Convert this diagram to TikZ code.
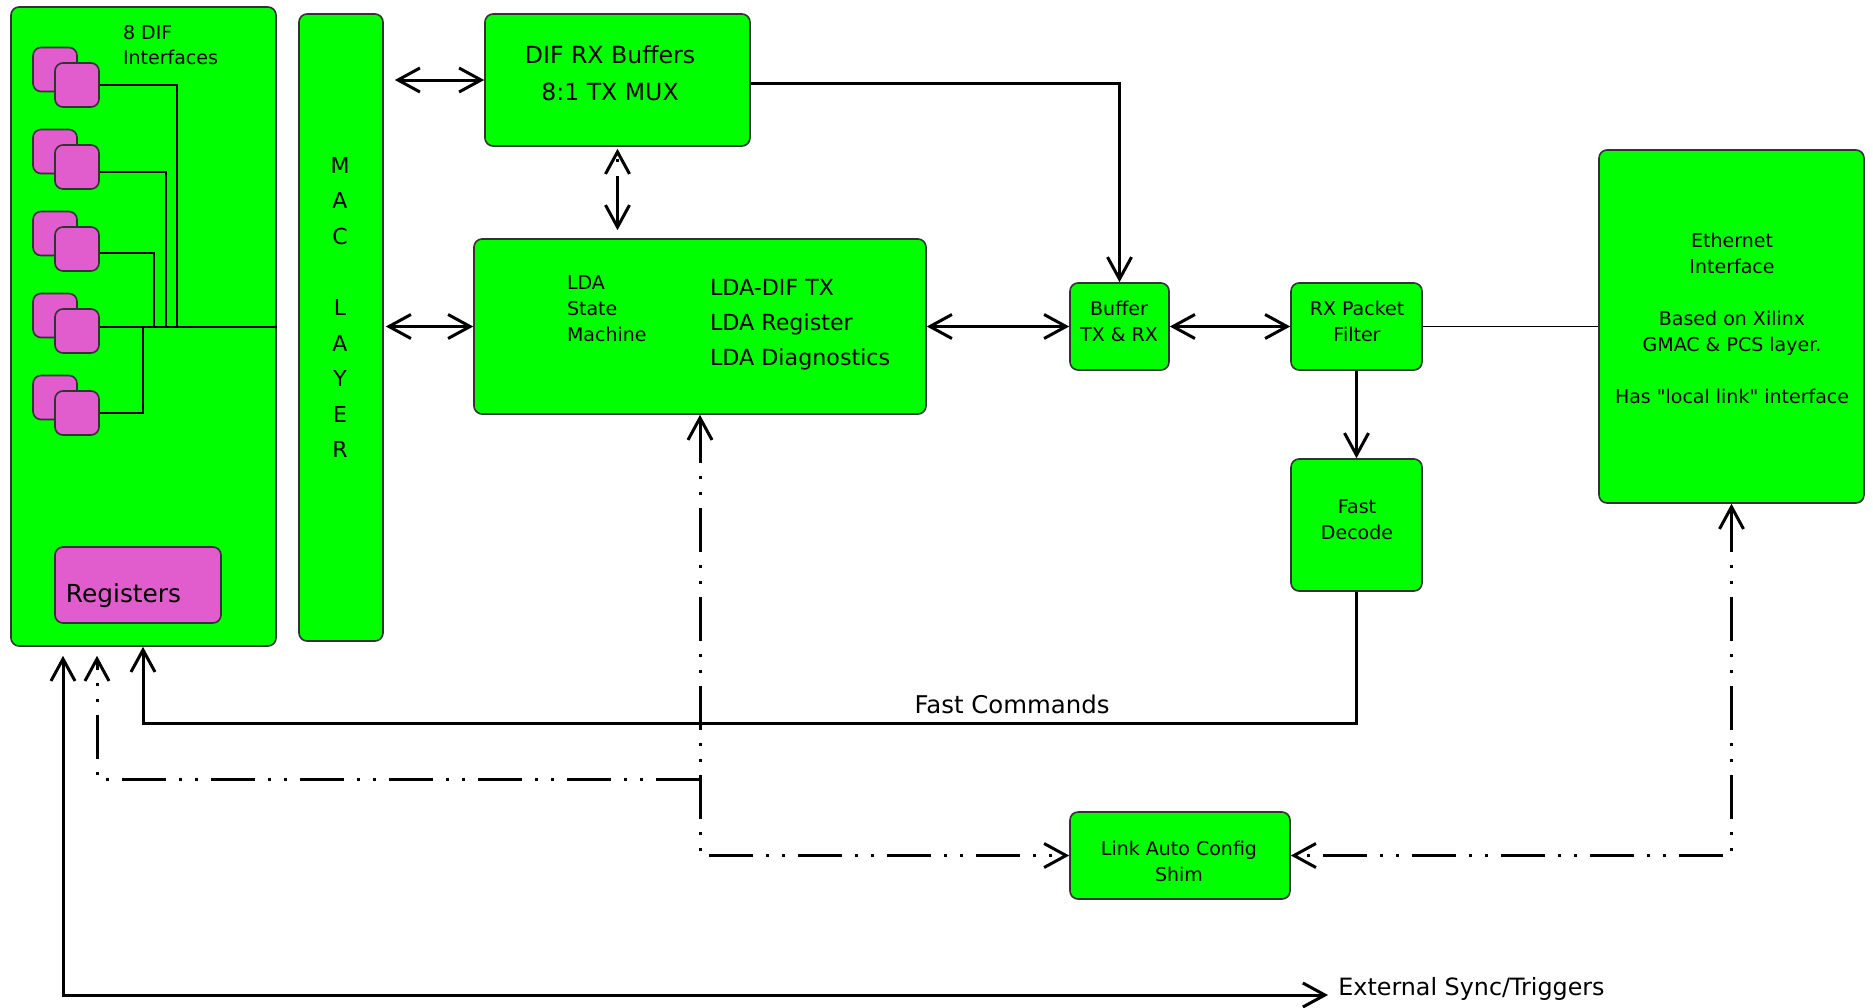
\documentclass[tikz,border=0pt]{standalone}
\usepackage{fontspec}
\setmainfont{DejaVu Sans}[Ligatures=TeXOff]
\usetikzlibrary{arrows.meta}
\definecolor{blockgreen}{RGB}{0,255,0}
\definecolor{padpink}{RGB}{225,92,205}

\begin{document}
\begin{tikzpicture}[x=0.5pt, y=-0.5pt,
    >={Straight Barb[length=11pt, width=12pt]},
    block/.style={draw=black!80, line width=0.8pt, fill=blockgreen, rounded corners=4pt, inner sep=0pt},
    padbox/.style={draw=black!80, line width=0.8pt, fill=padpink, rounded corners=4pt, minimum width=22pt, minimum height=22pt, inner sep=0pt},
    link/.style={line width=1.5pt},
    bus/.style={line width=1pt},
    dashdotdot/.style={line width=1.5pt, dash pattern=on 22pt off 6.5pt on 1.5pt off 6.5pt on 1.5pt off 6.5pt},
    smalltext/.style={font=\fontsize{9.5}{13}\selectfont, align=center},
    bigtext/.style={font=\fontsize{12}{18.5}\selectfont, align=center}]
    \useasboundingbox (0,0) rectangle (1873,1007);

    % DIF interfaces block
    \node[block, minimum width=132.5pt, minimum height=319.5pt] (iface) at (143.5,326.5) {};
    \node[smalltext, anchor=west, align=left, font=\fontsize{9.5}{12.5}\selectfont] (ifacelbl) at (116,45.5) {8 DIF\\Interfaces};

    % Interface pads
    \node[padbox] (difa1) at (55,69.5) {};
    \node[padbox] (difb1) at (77,85) {};
    \node[padbox] (difa2) at (55,151.5) {};
    \node[padbox] (difb2) at (77,167) {};
    \node[padbox] (difa3) at (55,233.5) {};
    \node[padbox] (difb3) at (77,249) {};
    \node[padbox] (difa4) at (55,315.5) {};
    \node[padbox] (difb4) at (77,331) {};
    \node[padbox] (difa5) at (55,397.5) {};
    \node[padbox] (difb5) at (77,413) {};

    % Pad wiring
    \coordinate (tap1) at (177,326.5);
    \coordinate (tap2) at (166,326.5);
    \coordinate (tap3) at (154,326.5);
    \coordinate (tap5) at (143,326.5);
    \draw[bus] (difb4.east |- iface.east) -- (iface.east);
    \draw[bus] (difb1.east) -| (tap1);
    \draw[bus] ([yshift=-2.5pt]difb2.east) -| (tap2);
    \draw[bus] ([yshift=-2pt]difb3.east) -| (tap3);
    \draw[bus] (difb5.east) -| (tap5);

    % Registers
    \node[padbox, minimum width=83pt, minimum height=38pt] (regs) at (138,585) {};
    \node[font=\fontsize{12.4}{14}\selectfont] (regslbl) at (123.5,596) {Registers};

    % MAC layer
    \node[block, minimum width=42pt, minimum height=313.5pt] (mac) at (341,327.5) {};
    \node[font=\fontsize{11}{17.8}\selectfont, align=center] (maclbl) at (340,307.5) {M\\A\\C\\[17.8pt]L\\A\\Y\\E\\R};

    % DIF RX buffers
    \node[block, minimum width=132.5pt, minimum height=66pt] (difrx) at (617.5,80) {};
    \node[bigtext, font=\fontsize{11.8}{18.5}\selectfont] (difrxlbl) at (610,73.5) {DIF RX Buffers\\8:1 TX MUX};

    % LDA block
    \node[block, minimum width=226pt, minimum height=87.5pt] (lda) at (700,326.5) {};
    \node[smalltext, anchor=west, align=left] (ldasm) at (560,309) {LDA\\State\\Machine};
    \node[anchor=west, align=left, font=\fontsize{11.1}{17.5}\selectfont] (ldafunc) at (703,325) {LDA-DIF TX\\LDA Register\\LDA Diagnostics};

    % Packet path
    \node[block, minimum width=49.5pt, minimum height=43.5pt] (bufrx) at (1119.5,326.5) {};
    \node[smalltext] (bufrxlbl) at (1119,321.5) {Buffer\\TX \& RX};
    \node[block, minimum width=65.5pt, minimum height=43.5pt] (rxpf) at (1356.5,326.5) {};
    \node[smalltext] (rxpflbl) at (1357,321.5) {RX Packet\\Filter};
    \node[block, minimum width=65.5pt, minimum height=66pt] (fastdec) at (1356.5,525) {};
    \node[smalltext] (fastdeclbl) at (1357,519.5) {Fast\\Decode};

    % Ethernet interface
    \node[block, minimum width=132.5pt, minimum height=176.5pt] (eth) at (1731.5,326.5) {};
    \node[smalltext] (ethlbl) at (1732,318.5) {Ethernet\\Interface\\[13pt]Based on Xilinx\\GMAC \& PCS layer.\\[13pt]Has "local link" interface};

    % Link auto config
    \node[block, minimum width=110pt, minimum height=43.5pt] (linkcfg) at (1180,855.5) {};
    \node[smalltext] (linkcfglbl) at (1179,861.5) {Link Auto Config\\Shim};

    % Data connectors
    \draw[link, <->, shorten <=5.5pt] (mac.east |- difrx.west) -- (difrx.west);
    \draw[link, <->, shorten <=1pt] (mac.east |- lda.west) -- (lda.west);
    \draw[link, <->, shorten <=4pt, shorten >=1pt, dash pattern=on 25pt off 7pt on 1.5pt off 20pt] (difrx.south |- lda.north) -- (difrx.south);
    \draw[link, ->] ([yshift=-1.5pt]difrx.east) -| (bufrx.north);
    \draw[link, <->] (lda.east) -- (bufrx.west);
    \draw[link, <->] (bufrx.east) -- (rxpf.west);
    \draw[line width=0.6pt] (rxpf.east) -- (eth.west);
    \draw[link, ->] (rxpf.south) -- (fastdec.north);

    % Fast commands
    \coordinate (fcturn) at (143,723);
    \draw[link, ->] (fastdec.south) |- (fcturn) -- (iface.south -| fcturn);
    \node[font=\fontsize{12.2}{14}\selectfont] (fcmdlbl) at (1012,704) {Fast Commands};

    % Link config connectors
    \coordinate (cfgsplit) at (700,779);
    \coordinate (cfgturn) at (97,779);
    \draw[dashdotdot, <->] (lda.south) |- (linkcfg.west);
    \draw[dashdotdot, ->, shorten >=4.5pt] (cfgsplit) -- (cfgturn) -- (iface.south -| cfgturn);
    \draw[dashdotdot, <->] (eth.south) |- (linkcfg.east);

    % External sync
    \coordinate (extturn) at (63,995);
    \coordinate (extend) at (1328,995);
    \draw[link, <->, shorten <=4.5pt] (iface.south -| extturn) -- (extturn) -- (extend);
    \node[anchor=base west, inner sep=0pt, font=\fontsize{11.9}{14}\selectfont] (extlbl) at (1338,995) {External Sync/Triggers};
\end{tikzpicture}
\end{document}
